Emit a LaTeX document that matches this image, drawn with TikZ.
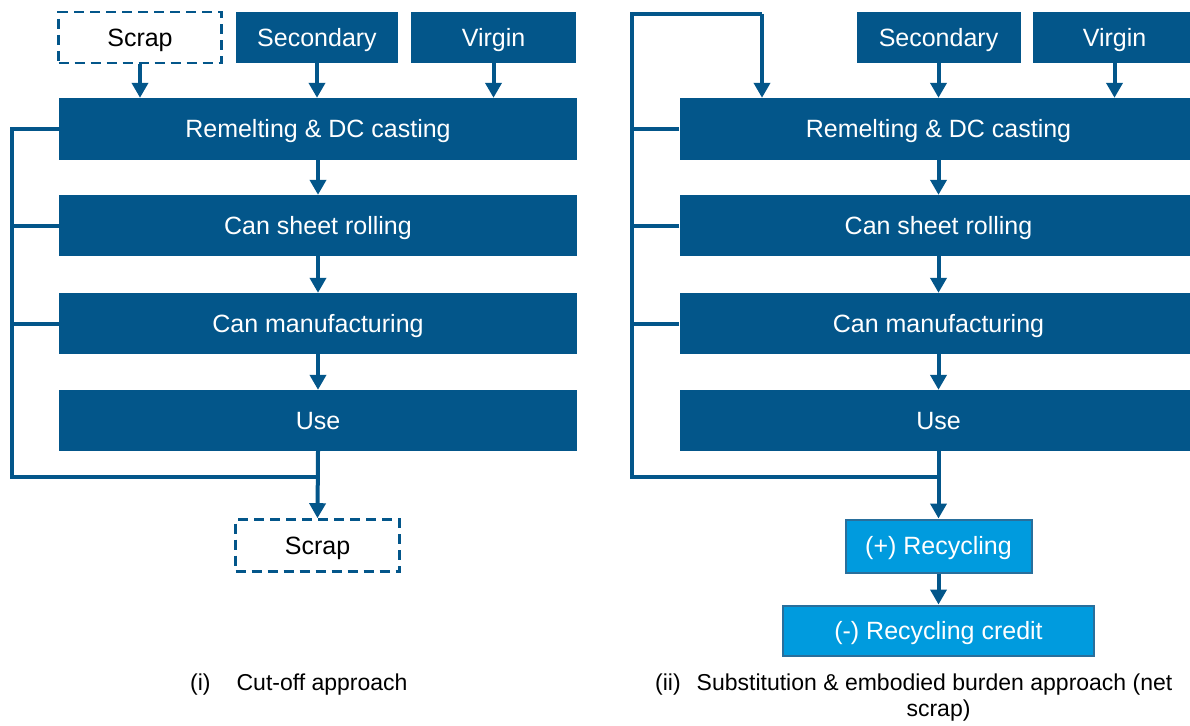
\documentclass[tikz,border=0pt]{standalone}
\usepackage{fontspec}
\setmainfont{Liberation Sans}
\usetikzlibrary{arrows.meta,calc}
\definecolor{blueD}{RGB}{3,86,138}
\definecolor{blueL}{RGB}{0,155,222}
\begin{document}
\begin{tikzpicture}[x=1pt,y=-1pt,
  txt/.style={inner sep=0pt,font=\fontsize{25}{30}\selectfont,text height=17pt,text depth=0pt},
  box/.style={rectangle,fill=blueD,text=white,txt},
  dbox/.style={rectangle,draw=blueD,line width=2.6pt,dash pattern=on 10pt off 6pt,fill=white,text=black,txt},
  lbox/.style={rectangle,fill=blueL,draw=blueD!85,line width=2pt,text=white,txt},
  conn/.style={draw=blueD,line width=4pt},
  arr/.style={conn,-{Triangle[width=16pt,length=15pt]}},
  captxt/.style={inner sep=0pt,anchor=base west,font=\fontsize{23}{28}\selectfont},
]
\useasboundingbox (0,0) rectangle (1190,725);
\clip (0,0) rectangle (1190,725);

% ---------- left panel ----------
\coordinate (busL) at (12,477);
\coordinate (joinL) at (318,477);
\node[box,minimum width=518pt,minimum height=62pt] (remL) at (318,129) {Remelting \& DC casting};
\node[box,minimum width=518pt,minimum height=61pt] (rollL) at (318,225.5) {Can sheet rolling};
\node[box,minimum width=518pt,minimum height=61pt] (manL) at (318,323.5) {Can manufacturing};
\node[box,minimum width=518pt,minimum height=61pt] (useL) at (318,420.5) {Use};

\draw[conn] (remL.west) -| (busL) -- (joinL);
\draw[conn] (rollL.west) -- (rollL.west -| busL);
\draw[conn] (manL.west) -- (manL.west -| busL);

\node[dbox,minimum width=163pt,minimum height=51pt] (scrapT) at (140,37.5) {Scrap};
\node[box,minimum width=162pt,minimum height=51pt] (secL) at (317,37.5) {Secondary};
\node[box,minimum width=165pt,minimum height=51pt] (virL) at (493.5,37.5) {Virgin};
\node[dbox,minimum width=164pt,minimum height=52pt] (scrapB) at (317.5,545.5) {Scrap};

\draw[arr] (scrapT.south) -- (scrapT.south |- remL.north);
\draw[arr] (secL.south) -- (secL.south |- remL.north);
\draw[arr] (virL.south) -- (virL.south |- remL.north);
\draw[arr] (remL.south) -- (rollL.north);
\draw[arr] (rollL.south) -- (manL.north);
\draw[arr] (manL.south) -- (useL.north);
\draw[arr] (useL.south) -- (scrapB.north);

\node[captxt] (capI) at (190,690) {(i)\hspace{26pt}Cut-off approach};

% ---------- right panel ----------
\coordinate (busR) at (632,477);
\coordinate (joinR) at (938.5,477);
\coordinate (loopIn) at (762,14);
\node[box,minimum width=518pt,minimum height=62pt] (remR) at (938.5,129) {Remelting \& DC casting};
\node[box,minimum width=518pt,minimum height=61pt] (rollR) at (938.5,225.5) {Can sheet rolling};
\node[box,minimum width=518pt,minimum height=61pt] (manR) at (938.5,323.5) {Can manufacturing};
\node[box,minimum width=518pt,minimum height=61pt] (useR) at (938.5,420.5) {Use};

\draw[conn] (joinR) -- (busR) |- (loopIn);
\draw[arr] (loopIn) -- (loopIn |- remR.north);
\draw[conn] (remR.west) -- (remR.west -| busR);
\draw[conn] (rollR.west) -- (rollR.west -| busR);
\draw[conn] (manR.west) -- (manR.west -| busR);

\node[box,minimum width=164pt,minimum height=51pt] (secR) at (938.5,37.5) {Secondary};
\node[box,minimum width=164pt,minimum height=51pt] (virR) at (1114.5,37.5) {Virgin};

\node[lbox,minimum width=186pt,minimum height=53pt] (recyc) at (938.5,546) {(+) Recycling};
\node[lbox,minimum width=311pt,minimum height=50pt] (credit) at (938.5,630.5) {(-) Recycling credit};

\draw[arr] (secR.south) -- (secR.south |- remR.north);
\draw[arr] (virR.south) -- (virR.south |- remR.north);
\draw[arr] (remR.south) -- (rollR.north);
\draw[arr] (rollR.south) -- (manR.north);
\draw[arr] (manR.south) -- (useR.north);
\draw[arr] (useR.south) -- (recyc.north);
\draw[arr] (recyc.south) -- (credit.north);

\node[captxt] (capII) at (655,690) {(ii)\hspace{16pt}Substitution \& embodied burden approach (net};
\node[inner sep=0pt,anchor=base,font=\fontsize{23}{28}\selectfont] (capII2) at (938.5,716) {scrap)};
\end{tikzpicture}
\end{document}
